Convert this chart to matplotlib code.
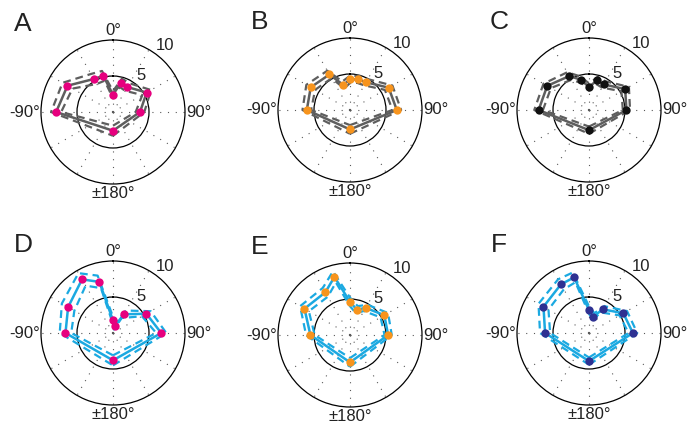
import numpy as np
import matplotlib
matplotlib.use("Agg")
import matplotlib.pyplot as plt

plt.rcParams["font.family"] = ["Liberation Sans", "DejaVu Sans"]

# polygon order: 180, 90, 60, 30, 15, 0, -15, -30, -60, -90 (deg, clockwise from top)
ANGLES = [180, 90, 60, 30, 15, 0, -15, -30, -60, -90]

R_A = [2.6, 3.75, 5.4, 4.0, 4.2, 2.4, 5.2, 5.3, 7.3, 7.9]
R_B = [2.7, 6.5, 6.2, 4.45, 4.4, 4.25, 3.6, 5.7, 6.3, 6.0]
R_C = [2.8, 5.2, 5.8, 4.1, 4.25, 3.2, 4.35, 5.45, 6.7, 7.0]
R_D = [3.8, 6.7, 5.35, 3.0, 1.0, 1.75, 7.35, 8.6, 7.2, 6.6]
R_E = [3.8, 5.3, 5.5, 4.35, 3.65, 4.6, 8.35, 6.85, 7.3, 5.5]
R_F = [3.9, 6.1, 5.5, 3.8, 2.35, 3.2, 8.0, 7.8, 7.3, 6.1]

ERR_A = [0.7, 0.6, 0.7, 0.6, 0.6, 0.5, 0.7, 0.8, 0.8, 0.7]
ERR_B = [0.6, 0.6, 0.6, 0.5, 0.5, 0.5, 0.5, 0.6, 0.7, 0.6]
ERR_C = [0.5, 0.5, 0.6, 0.5, 0.5, 0.5, 0.5, 0.6, 0.6, 0.6]
ERR_D = [0.7, 0.7, 0.7, 0.6, 0.5, 0.5, 0.9, 1.0, 1.0, 0.8]
ERR_E = [0.6, 0.5, 0.6, 0.5, 0.5, 0.6, 0.8, 0.7, 0.7, 0.6]
ERR_F = [0.5, 0.6, 0.6, 0.5, 0.5, 0.5, 0.7, 0.8, 0.8, 0.7]

LETTERS = ["A", "B", "C", "D", "E", "F"]
MEANS = [R_A, R_B, R_C, R_D, R_E, R_F]
ERRS = [ERR_A, ERR_B, ERR_C, ERR_D, ERR_E, ERR_F]
DOTS = ["#e6007e", "#f7941d", "#111111", "#e6007e", "#f7941d", "#2e3192"]
LINES = ["#5e5e5e", "#5e5e5e", "#5e5e5e", "#1ba9e1", "#1ba9e1", "#1ba9e1"]

# panel centres in pixels (690 x 428 figure)
CENTRES = [(113, 112), (350, 110), (589, 110), (113, 333), (350, 335), (589, 333)]
RAD = 72

fig = plt.figure(figsize=(6.9, 4.28), dpi=100)
W, H = 690, 428

for i in range(6):
    cx, cy = CENTRES[i]
    ax = fig.add_axes([(cx - RAD) / W, (H - cy - RAD) / H, 2 * RAD / W, 2 * RAD / H],
                      projection="polar")
    ax.set_theta_zero_location("N")
    ax.set_theta_direction(-1)
    ax.set_rlim(0, 10)
    ax.set_thetagrids(np.arange(0, 360, 30), labels=[""] * 12)
    ax.set_rgrids([5], labels=[""])
    ax.xaxis.grid(True, color="0.35", linestyle=(0, (1, 6)), linewidth=0.8)
    ax.yaxis.grid(True, color="black", linestyle="-", linewidth=0.9)
    ax.spines["polar"].set_linewidth(0.9)
    ax.tick_params(length=0)

    th = np.deg2rad(ANGLES + [ANGLES[0]])
    m = np.array(MEANS[i] + [MEANS[i][0]])
    e = np.array(ERRS[i] + [ERRS[i][0]])
    ax.plot(th, m + e, color=LINES[i], lw=1.6, ls=(0, (3.5, 2.2)), zorder=3)
    ax.plot(th, m - e, color=LINES[i], lw=1.6, ls=(0, (3.5, 2.2)), zorder=3)
    ax.plot(th, m, color=LINES[i], lw=1.8, zorder=4)
    ax.plot(th[:-1], m[:-1], "o", color=DOTS[i], ms=6, mec="none", zorder=5)

    fs = 12
    ax.text(0, 10.3, "0°", ha="center", va="bottom", fontsize=fs, color="#222222")
    ax.text(np.pi / 2, 10.2, "90°", ha="left", va="center", fontsize=fs, color="#222222")
    ax.text(-np.pi / 2, 10.2, "-90°", ha="right", va="center", fontsize=fs, color="#222222")
    ax.text(np.pi, 10.3, "±180°", ha="center", va="top", fontsize=fs, color="#222222")
    ax.text(np.deg2rad(38), 11.7, "10", ha="center", va="center", fontsize=fs, color="#222222")
    ax.text(np.deg2rad(38), 6.4, "5", ha="center", va="center", fontsize=fs, color="#222222")
    ax.set_facecolor("none")

    fig.text((cx - 90) / W, 1 - (cy - 88) / H, LETTERS[i], ha="center", va="center",
             fontsize=19, color="#222222")

fig.savefig("out.png", dpi=100)
